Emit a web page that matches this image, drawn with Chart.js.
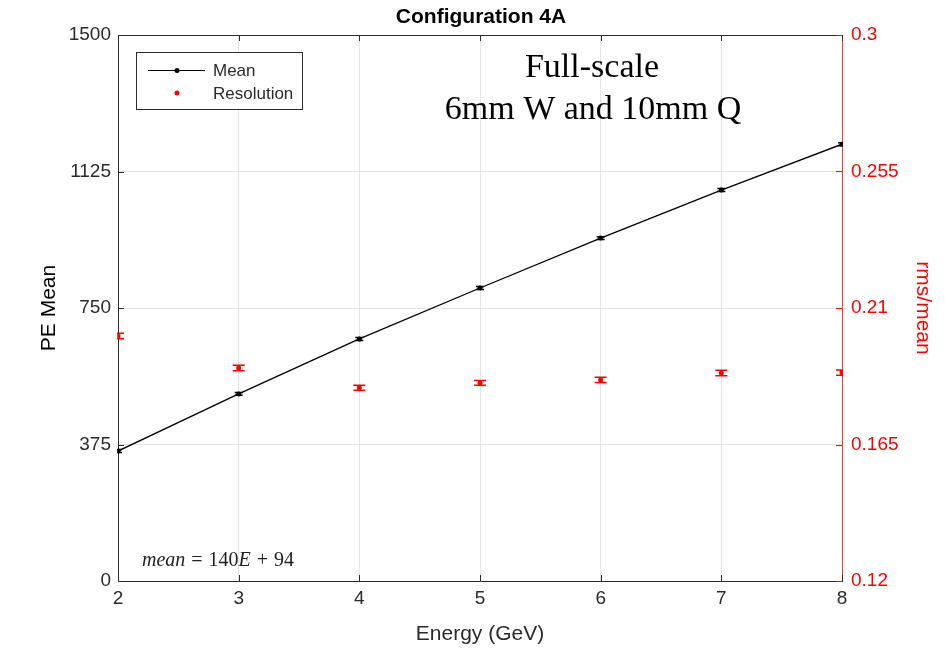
<!DOCTYPE html>
<html>
<head>
<meta charset="utf-8">
<script src="https://cdn.jsdelivr.net/npm/chart.js@4/dist/chart.umd.min.js"></script>
<style>
  html, body { margin: 0; padding: 0; background: #fff; }
  #wrap { width: 951px; height: 653px; position: relative; }
</style>
</head>
<body>
<div id="wrap"><canvas id="chart"></canvas></div>
<script>
// values
const energy = [2, 3, 4, 5, 6, 7, 8];
const peMean = [357, 514, 665, 805, 942, 1074, 1200];
const peMeanErr = [4, 4, 4, 4, 4, 4, 4];
const resolution = [0.2008, 0.1902, 0.1837, 0.1853, 0.1863, 0.1886, 0.1887];
const resolutionErr = [0.0009, 0.0009, 0.0008, 0.0008, 0.0009, 0.0009, 0.0009];
const xTicks = [2, 3, 4, 5, 6, 7, 8];
const leftTicks = [0, 375, 750, 1125, 1500];
const rightTicks = [0.12, 0.165, 0.21, 0.255, 0.3];

const RED = '#ff0000';
const AXIS = '#2b2b2b';
const SANS = '"Liberation Sans", Arial, sans-serif';
const SERIF = '"Liberation Serif", "Times New Roman", serif';

const pts = (ys) => energy.map((x, i) => ({ x, y: ys[i] }));

// error bars, inward ticks, box top line, title, legend and notes
const extras = {
  id: 'extras',
  afterDatasetsDraw(chart) {
    const { ctx, scales: { x, y, y2 } } = chart;
    const bars = (vals, errs, scale, color, cap) => {
      ctx.save();
      ctx.strokeStyle = color; ctx.lineWidth = 1.5;
      vals.forEach((v, i) => {
        const px = x.getPixelForValue(energy[i]);
        const lo = scale.getPixelForValue(v - errs[i]);
        const hi = scale.getPixelForValue(v + errs[i]);
        ctx.beginPath();
        ctx.moveTo(px, lo); ctx.lineTo(px, hi);
        ctx.moveTo(px - cap, lo); ctx.lineTo(px + cap, lo);
        ctx.moveTo(px - cap, hi); ctx.lineTo(px + cap, hi);
        ctx.stroke();
      });
      ctx.restore();
    };
    ctx.save();
    const a = chart.chartArea;
    ctx.beginPath(); ctx.rect(a.left - 1, a.top - 1, a.right - a.left + 2, a.bottom - a.top + 2); ctx.clip();
    bars(peMean, peMeanErr, y, '#000', 4);
    bars(resolution, resolutionErr, y2, RED, 6);
    ctx.restore();
  },
  afterDraw(chart) {
    const { ctx, chartArea: a, scales: { x, y, y2 } } = chart;
    ctx.save();
    ctx.lineWidth = 1;
    // top border
    ctx.strokeStyle = AXIS;
    ctx.beginPath(); ctx.moveTo(a.left, a.top + 0.5); ctx.lineTo(a.right, a.top + 0.5); ctx.stroke();
    // inward ticks
    const tl = 6;
    ctx.beginPath();
    xTicks.forEach(v => {
      const px = Math.round(x.getPixelForValue(v)) + 0.5;
      ctx.moveTo(px, a.bottom); ctx.lineTo(px, a.bottom - tl);
      ctx.moveTo(px, a.top); ctx.lineTo(px, a.top + tl);
    });
    leftTicks.forEach(v => {
      const py = Math.round(y.getPixelForValue(v)) + 0.5;
      ctx.moveTo(a.left, py); ctx.lineTo(a.left + tl, py);
    });
    ctx.stroke();
    ctx.strokeStyle = RED;
    ctx.beginPath();
    rightTicks.forEach(v => {
      const py = Math.round(y2.getPixelForValue(v)) + 0.5;
      ctx.moveTo(a.right, py); ctx.lineTo(a.right - tl, py);
    });
    ctx.stroke();

    // title over the plot box
    ctx.fillStyle = '#000';
    ctx.textAlign = 'center';
    ctx.textBaseline = 'middle';
    ctx.font = 'bold 21px ' + SANS;
    ctx.fillText('Configuration 4A', (a.left + a.right) / 2 + 1, 17);

    // legend
    ctx.textAlign = 'left';
    ctx.fillStyle = '#fff';
    ctx.fillRect(136, 52, 166, 57);
    ctx.strokeStyle = AXIS;
    ctx.strokeRect(136.5, 52.5, 166, 57);
    ctx.strokeStyle = '#000'; ctx.lineWidth = 1.2;
    ctx.beginPath(); ctx.moveTo(148, 70.5); ctx.lineTo(205, 70.5); ctx.stroke();
    ctx.fillStyle = '#000';
    ctx.beginPath(); ctx.arc(177, 70.5, 2.5, 0, Math.PI * 2); ctx.fill();
    ctx.fillStyle = RED;
    ctx.beginPath(); ctx.arc(177, 93, 2.5, 0, Math.PI * 2); ctx.fill();
    ctx.fillStyle = AXIS;
    ctx.font = '17px ' + SANS;
    ctx.fillText('Mean', 213, 71);
    ctx.fillText('Resolution', 213, 94);

    // notes
    ctx.fillStyle = '#000';
    ctx.textAlign = 'center';
    ctx.font = '34px ' + SERIF;
    ctx.fillText('Full-scale', 592, 68);
    ctx.fillText('6mm W and 10mm Q', 593, 110);

    ctx.textAlign = 'left';
    ctx.fillStyle = '#222';
    const parts = [['mean', 'italic', 6], ['=', 'normal', 6], ['140', 'normal', 0], ['E', 'italic', 6], ['+', 'normal', 6], ['94', 'normal', 0]];
    let cx = 142;
    parts.forEach(([t, st, gap]) => {
      ctx.font = st + ' 20px ' + SERIF;
      ctx.fillText(t, cx, 561);
      cx += ctx.measureText(t).width + gap;
    });
    ctx.restore();
  }
};

new Chart(document.getElementById('chart'), {
  type: 'scatter',
  data: {
    datasets: [
      {
        label: 'Mean',
        data: pts(peMean),
        yAxisID: 'y',
        showLine: true,
        borderColor: '#000',
        backgroundColor: '#000',
        borderWidth: 1.3,
        pointRadius: 2.5,
        pointBorderWidth: 0
      },
      {
        label: 'Resolution',
        data: pts(resolution),
        yAxisID: 'y2',
        showLine: false,
        borderColor: RED,
        backgroundColor: RED,
        pointRadius: 2.5,
        pointBorderWidth: 0
      }
    ]
  },
  options: {
    responsive: true,
    maintainAspectRatio: false,
    devicePixelRatio: 1,
    animation: false,
    layout: { padding: { top: 35, left: 0, right: 0, bottom: 0 } },
    plugins: {
      legend: { display: false },
      tooltip: { enabled: false },
      title: { display: false }
    },
    scales: {
      x: {
        type: 'linear',
        min: 2, max: 8,
        afterBuildTicks: s => { s.ticks = xTicks.map(v => ({ value: v })); },
        afterFit: s => { s.height = 72; },
        grid: { color: '#e4e4e4', drawTicks: false },
        border: { color: AXIS, width: 1 },
        ticks: { color: AXIS, font: { family: SANS, size: 19 }, padding: 6, callback: v => String(v) },
        title: { display: true, text: 'Energy (GeV)', color: AXIS, font: { family: SANS, size: 21 }, padding: { top: 0, bottom: 6 } }
      },
      y: {
        position: 'left',
        min: 0, max: 1500,
        afterBuildTicks: s => { s.ticks = leftTicks.map(v => ({ value: v })); },
        afterFit: s => { s.width = 118; },
        grid: { color: '#e4e4e4', drawTicks: false },
        border: { color: AXIS, width: 1 },
        ticks: { color: AXIS, font: { family: SANS, size: 19 }, padding: 7, callback: v => String(v) },
        title: { display: true, text: 'PE Mean', color: '#000', font: { family: SANS, size: 21 }, padding: { top: 37, bottom: 0 } }
      },
      y2: {
        position: 'right',
        min: 0.12, max: 0.3,
        afterBuildTicks: s => { s.ticks = rightTicks.map(v => ({ value: v })); },
        afterFit: s => { s.width = 109; },
        grid: { display: false, drawTicks: false },
        border: { color: 'rgba(255,0,0,0.75)', width: 1 },
        ticks: { color: RED, font: { family: SANS, size: 19 }, padding: 9, callback: v => String(v) },
        title: { display: true, text: 'rms/mean', color: RED, font: { family: SANS, size: 21 }, padding: { top: 16, bottom: 0 } }
      }
    }
  },
  plugins: [extras]
});
</script>
</body>
</html>
